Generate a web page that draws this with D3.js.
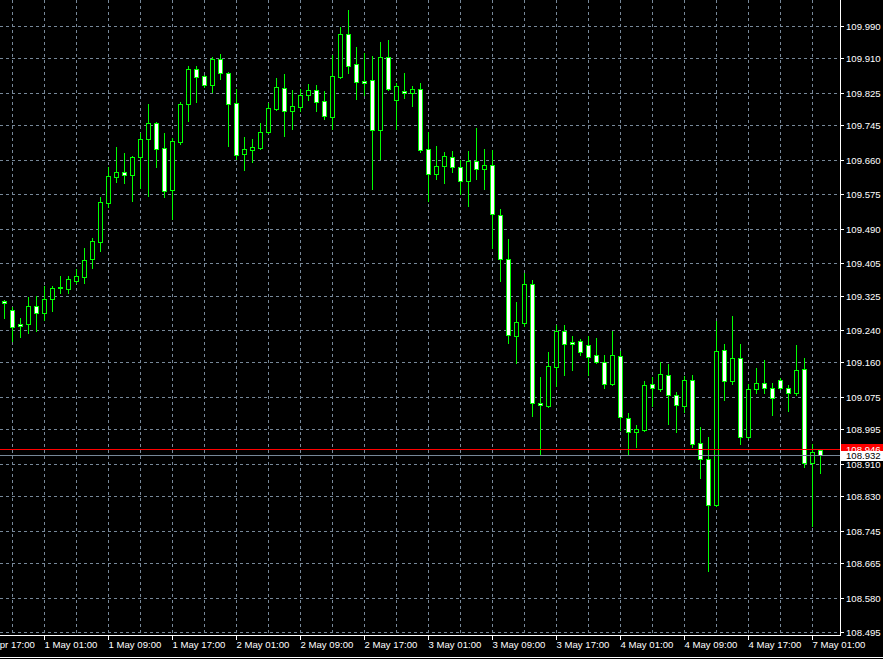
<!DOCTYPE html>
<html>
<head>
<meta charset="utf-8">
<script src="https://cdn.jsdelivr.net/npm/d3@7"></script>
<style>
html,body{margin:0;padding:0;background:#000;overflow:hidden;}
svg{display:block;}
text{font-family:"Liberation Sans",Arial,sans-serif;font-size:9.6px;}
</style>
</head>
<body>
<svg id="chart" width="883" height="659"></svg>
<script>
// ---- DATA (USDJPY-style H1 candles, prices) ----
const opens = [109.311,109.289,109.255,109.255,109.299,109.282,109.316,109.346,109.341,109.361,
109.371,109.415,109.457,109.553,109.617,109.630,109.622,109.667,109.711,109.751,
109.689,109.585,109.704,109.797,109.884,109.867,109.844,109.908,109.874,109.800,
109.674,109.684,109.689,109.728,109.785,109.837,109.780,109.790,109.820,109.832,
109.805,109.765,109.864,109.970,109.896,109.854,109.857,109.733,109.913,109.807,
109.830,109.825,109.834,109.686,109.625,109.644,109.667,109.642,109.607,109.657,
109.637,109.647,109.524,109.415,109.225,109.257,109.353,109.060,109.052,109.149,
109.237,109.210,109.213,109.203,109.178,109.161,109.107,109.176,109.023,108.988,
108.993,109.107,109.094,109.129,109.080,109.052,109.117,108.961,108.922,108.808,
109.191,109.114,109.171,108.976,109.094,109.109,109.097,109.117,109.097,109.084,
109.144,108.912,108.944];
const highs = [109.314,109.297,109.270,109.321,109.324,109.348,109.348,109.373,109.373,109.390,
109.442,109.467,109.568,109.642,109.691,109.676,109.669,109.726,109.797,109.753,
109.726,109.714,109.802,109.891,109.891,109.869,109.913,109.921,109.876,109.834,
109.716,109.711,109.751,109.800,109.862,109.871,109.832,109.834,109.847,109.844,
109.830,109.918,109.987,110.029,109.938,109.923,109.916,109.950,109.955,109.849,
109.874,109.842,109.849,109.728,109.694,109.679,109.681,109.659,109.681,109.738,
109.686,109.684,109.538,109.464,109.309,109.380,109.363,109.124,109.186,109.252,
109.252,109.225,109.218,109.225,109.220,109.178,109.237,109.188,109.035,109.006,
109.114,109.124,109.161,109.156,109.087,109.126,109.129,109.001,108.976,109.262,
109.205,109.274,109.205,109.107,109.146,109.166,109.109,109.121,109.104,109.203,
109.171,108.959,108.946];
const lows = [109.270,109.213,109.223,109.233,109.237,109.265,109.287,109.331,109.331,109.356,
109.356,109.393,109.435,109.543,109.605,109.603,109.558,109.590,109.570,109.642,
109.568,109.514,109.699,109.756,109.802,109.839,109.827,109.859,109.694,109.662,
109.635,109.654,109.686,109.726,109.783,109.719,109.736,109.780,109.807,109.780,
109.760,109.736,109.862,109.874,109.810,109.820,109.588,109.662,109.832,109.736,
109.812,109.793,109.679,109.558,109.612,109.603,109.630,109.575,109.546,109.612,
109.588,109.442,109.361,109.208,109.158,109.250,109.028,108.932,109.050,109.102,
109.129,109.141,109.178,109.129,109.158,109.097,109.104,108.993,108.934,108.951,
108.991,109.052,109.089,109.008,108.988,109.038,108.951,108.875,108.645,108.806,
109.067,109.107,108.959,108.973,109.084,109.084,109.030,109.094,109.040,109.080,
108.902,108.756,108.887];
const closes = [109.307,109.247,109.250,109.299,109.282,109.316,109.344,109.344,109.366,109.373,
109.413,109.459,109.556,109.620,109.630,109.622,109.667,109.711,109.751,109.686,
109.583,109.706,109.797,109.884,109.864,109.844,109.908,109.874,109.797,109.672,
109.686,109.691,109.728,109.788,109.839,109.780,109.793,109.820,109.832,109.802,
109.768,109.867,109.970,109.891,109.852,109.849,109.733,109.913,109.834,109.842,
109.825,109.834,109.684,109.625,109.644,109.669,109.642,109.607,109.657,109.637,
109.647,109.526,109.415,109.228,109.260,109.353,109.060,109.055,109.151,109.237,
109.205,109.205,109.186,109.173,109.161,109.107,109.178,109.025,108.988,108.996,
109.104,109.097,109.131,109.080,109.055,109.117,108.959,108.922,108.808,109.188,
109.114,109.171,108.976,109.094,109.109,109.097,109.072,109.097,109.084,109.141,
108.912,108.939,108.932];

const priceTicks = ["109.990","109.910","109.825","109.745","109.660","109.575","109.490","109.405","109.325",
"109.240","109.160","109.075","108.995","108.910","108.830","108.745","108.665","108.580","108.495"];
const timeLabels = ["30 Apr 17:00","1 May 01:00","1 May 09:00","1 May 17:00","2 May 01:00","2 May 09:00",
"2 May 17:00","3 May 01:00","3 May 09:00","3 May 17:00","4 May 01:00","4 May 09:00","4 May 17:00","7 May 01:00"];
const timeLabelBars = [-3,5,13,21,29,37,45,53,61,69,77,85,93,101];
const bidPrice = 108.932;
const askPrice = 108.946;

// ---- LAYOUT ----
const W = 883, H = 659;
const plotRight = 840, plotBottom = 635;
const svg = d3.select("#chart");
svg.append("rect").attr("width",W).attr("height",H).attr("fill","#000");

const n = opens.length;
const x = d3.scaleLinear().domain([0, n-1]).range([4, 4 + 8*(n-1)]);
const y = d3.scaleLinear().domain([108.495, 109.990]).range([632, 26]);
const px = v => Math.round(v) + 0.5;

const grid = "#778899";
const plot = svg.append("g");
// horizontal grid
plot.selectAll("line.hg").data(priceTicks).join("line")
  .attr("x1",0).attr("x2",plotRight)
  .attr("y1",d=>px(y(+d))).attr("y2",d=>px(y(+d)))
  .attr("stroke",grid).attr("stroke-dasharray","3,3");
// vertical grid every 4 bars
const vgrid = d3.range(1, n, 4);
plot.selectAll("line.vg").data(vgrid).join("line")
  .attr("x1",d=>Math.round(x(d))+0.5).attr("x2",d=>Math.round(x(d))+0.5)
  .attr("y1",0).attr("y2",plotBottom)
  .attr("stroke",grid).attr("stroke-dasharray","3,3");

// candles
const idx = d3.range(n);
const lime = "#00ff00";
const cg = plot.append("g");
cg.selectAll("line.wick").data(idx).join("line")
  .attr("x1",i=>Math.round(x(i))+0.5).attr("x2",i=>Math.round(x(i))+0.5)
  .attr("y1",i=>Math.round(y(highs[i]))).attr("y2",i=>Math.round(y(lows[i]))+1)
  .attr("stroke",lime).attr("stroke-width",1);
cg.selectAll("rect.body").data(idx).join("rect")
  .attr("x",i=>Math.round(x(i))-1.5)
  .attr("y",i=>Math.round(y(Math.max(opens[i],closes[i])))+0.5)
  .attr("width",4)
  .attr("height",i=>Math.max(1,Math.round(y(Math.min(opens[i],closes[i])))-Math.round(y(Math.max(opens[i],closes[i])))))
  .attr("fill",i=>closes[i] < opens[i] ? "#ffffff" : "#000000")
  .attr("stroke",lime).attr("stroke-width",1);

// bid / ask lines
plot.append("line").attr("x1",0).attr("x2",plotRight)
  .attr("y1",px(y(askPrice))).attr("y2",px(y(askPrice))).attr("stroke","#ff0000");
plot.append("line").attr("x1",0).attr("x2",plotRight)
  .attr("y1",px(y(bidPrice))).attr("y2",px(y(bidPrice))).attr("stroke","#778899");

// axes frame
svg.append("line").attr("x1",plotRight+0.5).attr("x2",plotRight+0.5).attr("y1",0).attr("y2",plotBottom+1)
  .attr("stroke","#fff");
svg.append("line").attr("x1",0).attr("x2",plotRight+1).attr("y1",plotBottom+0.5).attr("y2",plotBottom+0.5)
  .attr("stroke","#fff");
svg.append("line").attr("x1",0).attr("x2",W).attr("y1",657.5).attr("y2",657.5).attr("stroke","#fff");

// right price axis
const ra = svg.append("g");
ra.selectAll("line").data(priceTicks).join("line")
  .attr("x1",plotRight+1).attr("x2",plotRight+4)
  .attr("y1",d=>px(y(+d))).attr("y2",d=>px(y(+d))).attr("stroke","#fff");
ra.selectAll("text").data(priceTicks).join("text")
  .attr("x",846).attr("y",d=>Math.round(y(+d))+4)
  .attr("fill","#fff").text(d=>d);

// bottom time axis
const ba = svg.append("g");
ba.selectAll("line").data(timeLabelBars).join("line")
  .attr("x1",d=>Math.round(x(d))+0.5).attr("x2",d=>Math.round(x(d))+0.5)
  .attr("y1",plotBottom+1).attr("y2",plotBottom+5).attr("stroke","#fff");
ba.selectAll("text").data(timeLabels).join("text")
  .attr("x",(d,i)=>Math.round(x(timeLabelBars[i]))+0.5).attr("y",648)
  .attr("fill","#fff").text(d=>d);

// price labels for ask / bid
const ay = Math.round(y(askPrice));
svg.append("rect").attr("x",841).attr("y",ay-5).attr("width",42).attr("height",12).attr("fill","#ff0000");
svg.append("text").attr("x",846).attr("y",ay+4).attr("fill","#fff").text(askPrice.toFixed(3));
const by = Math.round(y(bidPrice));
svg.append("rect").attr("x",841).attr("y",by-4).attr("width",42).attr("height",10).attr("fill","#ffffff");
svg.append("text").attr("x",846).attr("y",by+4).attr("fill","#000").text(bidPrice.toFixed(3));
</script>
</body>
</html>
